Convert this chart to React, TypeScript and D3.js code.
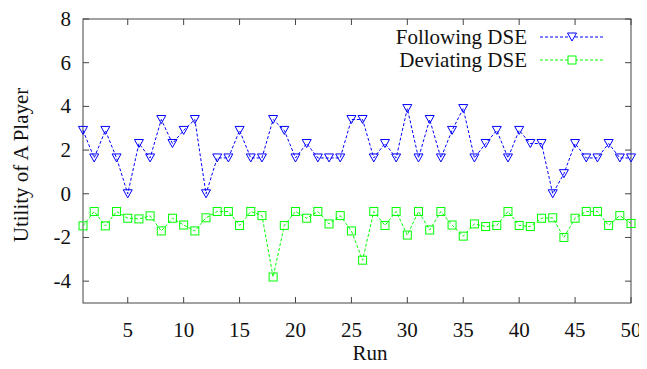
import { select, scaleLinear, line } from "d3";
import { useEffect, useRef } from "react";

const runs = Array.from({ length: 50 }, (_, i) => i + 1);

const following = [
  2.9, 1.64, 2.9, 1.64, 0, 2.3, 1.64, 3.4, 2.3, 2.9,
  3.4, 0, 1.64, 1.64, 2.9, 1.64, 1.64, 3.4, 2.9, 1.64,
  2.3, 1.64, 1.64, 1.64, 3.4, 3.4, 1.64, 2.3, 1.64, 3.9,
  1.64, 3.4, 1.64, 2.9, 3.9, 1.64, 2.3, 2.9, 1.64, 2.9,
  2.3, 2.3, 0, 0.92, 2.3, 1.64, 1.64, 2.3, 1.64, 1.64,
];

const deviating = [
  -1.47, -0.81, -1.47, -0.81, -1.12, -1.15, -1.01, -1.7, -1.12, -1.43,
  -1.7, -1.1, -0.81, -0.81, -1.45, -0.81, -1.0, -3.81, -1.45, -0.81,
  -1.12, -0.81, -1.38, -1.0, -1.7, -3.04, -0.81, -1.45, -0.81, -1.89,
  -0.81, -1.66, -0.81, -1.43, -1.94, -1.38, -1.5, -1.45, -0.81, -1.45,
  -1.5, -1.12, -1.1, -2.0, -1.12, -0.81, -0.81, -1.45, -1.0, -1.36,
];

const xTicks = [5, 10, 15, 20, 25, 30, 35, 40, 45, 50];
const yTicks = [-4, -2, 0, 2, 4, 6, 8];

const BLUE = "#0000ff";
const GREEN = "#00ff00";
const FONT = "'Liberation Serif', 'Times New Roman', Tinos, 'DejaVu Serif', serif";

function App() {
  const svgRef = useRef<SVGSVGElement>(null);
  const width = 647;
  const height = 369;
  const left = 83;
  const right = 631;
  const top = 19;
  const bottom = 303;

  useEffect(() => {
    const svg = select(svgRef.current);
    svg.selectAll("*").remove();

    const xScale = scaleLinear().domain([1, 50]).range([left, right]);
    const yScale = scaleLinear().domain([-5, 8]).range([bottom, top]);
    const fs = 21;

    // ticks, mirrored inside the frame
    const tickLen = 6;
    const g = svg.append("g").attr("stroke", "#444").attr("stroke-width", 1);
    xTicks.forEach((t) => {
      const x = xScale(t);
      g.append("line").attr("x1", x).attr("x2", x).attr("y1", bottom).attr("y2", bottom - tickLen);
      g.append("line").attr("x1", x).attr("x2", x).attr("y1", top).attr("y2", top + tickLen);
    });
    yTicks.forEach((t) => {
      const y = yScale(t);
      g.append("line").attr("x1", left).attr("x2", left + tickLen).attr("y1", y).attr("y2", y);
      g.append("line").attr("x1", right).attr("x2", right - tickLen).attr("y1", y).attr("y2", y);
    });
    g.append("rect")
      .attr("x", left)
      .attr("y", top)
      .attr("width", right - left)
      .attr("height", bottom - top)
      .attr("fill", "none");

    const txt = svg.append("g").style("font-family", FONT).attr("font-size", fs).attr("fill", "#111");

    // tick labels
    txt
      .selectAll(".xlab")
      .data(xTicks)
      .join("text")
      .attr("x", (d) => xScale(d))
      .attr("y", bottom + 34)
      .attr("text-anchor", "middle")
      .text((d) => d);
    txt
      .selectAll(".ylab")
      .data(yTicks)
      .join("text")
      .attr("x", left - 12)
      .attr("y", (d) => yScale(d) + 7)
      .attr("text-anchor", "end")
      .text((d) => d);

    txt
      .append("text")
      .attr("x", 370)
      .attr("y", 360)
      .attr("text-anchor", "middle")
      .text("Run");
    txt
      .append("text")
      .attr("transform", `translate(28,${(top + bottom) / 2 + 4}) rotate(-90)`)
      .attr("text-anchor", "middle")
      .text("Utility of A Player");

    const tri = (x: number, y: number) =>
      `M${x - 4.5},${y - 4} L${x + 4.5},${y - 4} L${x},${y + 4} Z`;

    const drawSeries = (values: number[], color: string, marker: "tri" | "sq") => {
      const lineGen = line<number>()
        .x((_, i) => xScale(runs[i]))
        .y((d) => yScale(d));
      svg
        .append("path")
        .attr("d", lineGen(values))
        .attr("fill", "none")
        .attr("stroke", color)
        .attr("stroke-width", 1)
        .attr("stroke-dasharray", "3,2");
      const pts = svg.append("g").attr("fill", "none").attr("stroke", color).attr("stroke-width", 1);
      values.forEach((v, i) => {
        const x = xScale(runs[i]);
        const y = yScale(v);
        if (marker === "tri") pts.append("path").attr("d", tri(x, y));
        else pts.append("rect").attr("x", x - 4).attr("y", y - 4).attr("width", 8).attr("height", 8);
      });
    };

    drawSeries(following, BLUE, "tri");
    drawSeries(deviating, GREEN, "sq");

    // legend
    const legend = [
      { label: "Following DSE", color: BLUE, marker: "tri", y: 37 },
      { label: "Deviating DSE", color: GREEN, marker: "sq", y: 60 },
    ];
    legend.forEach((l) => {
      txt
        .append("text")
        .attr("x", 527)
        .attr("y", l.y + 7)
        .attr("text-anchor", "end")
        .text(l.label);
      svg
        .append("line")
        .attr("x1", 540)
        .attr("x2", 604)
        .attr("y1", l.y)
        .attr("y2", l.y)
        .attr("stroke", l.color)
        .attr("stroke-dasharray", "3,2");
      if (l.marker === "tri")
        svg.append("path").attr("d", tri(572, l.y)).attr("fill", "white").attr("stroke", l.color);
      else
        svg
          .append("rect")
          .attr("x", 568)
          .attr("y", l.y - 4)
          .attr("width", 8)
          .attr("height", 8)
          .attr("fill", "white")
          .attr("stroke", l.color);
    });
  }, []);

  return <svg ref={svgRef} width={width} height={height} style={{ display: "block", margin: "-8px" }} />;
}

export default App;
